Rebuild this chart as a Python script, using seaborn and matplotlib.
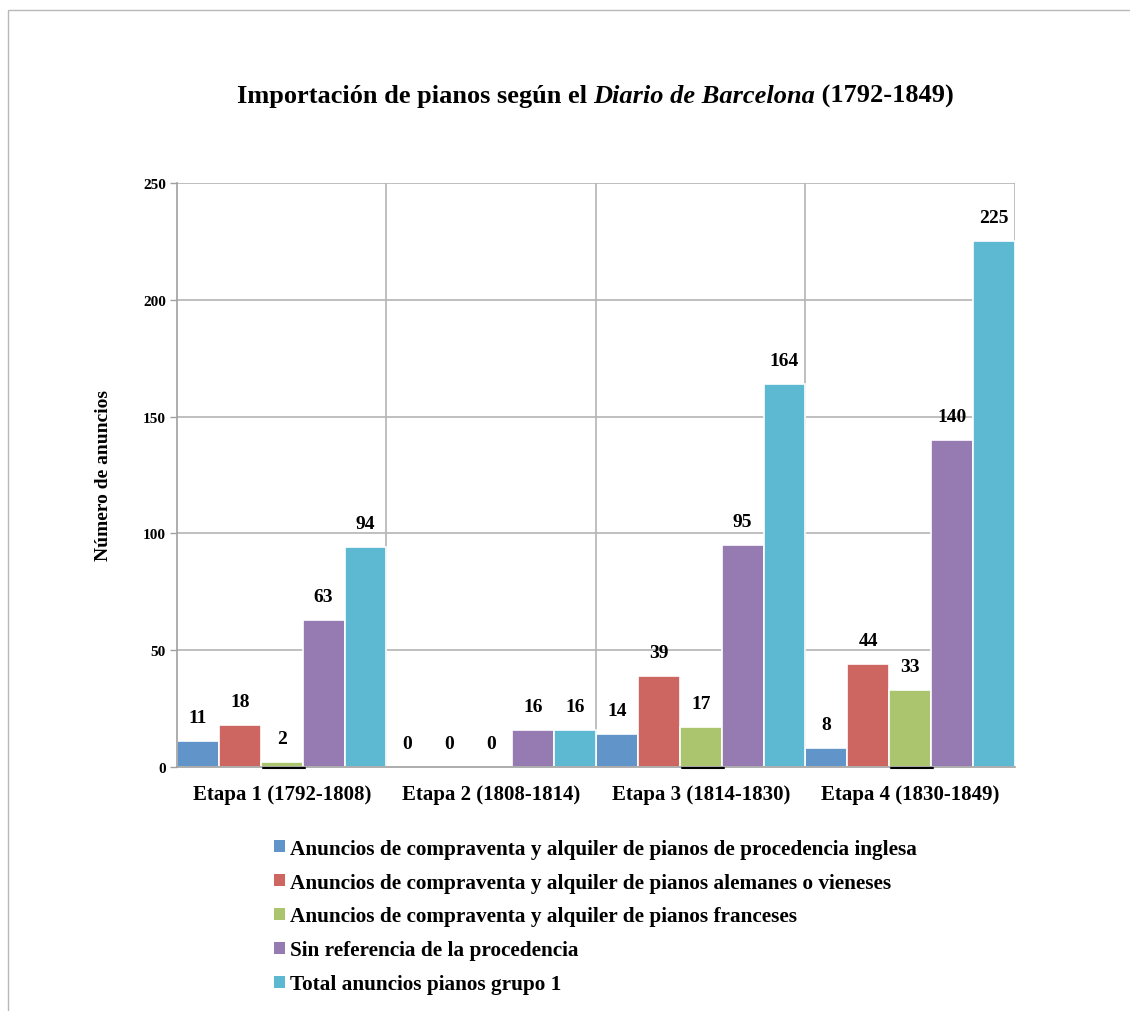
import pandas as pd
import matplotlib.pyplot as plt
import seaborn as sns
from matplotlib.patches import Patch, Rectangle

# data
etapas = ["Etapa 1 (1792-1808)", "Etapa 2 (1808-1814)",
          "Etapa 3 (1814-1830)", "Etapa 4 (1830-1849)"]
series = [
    "Anuncios de compraventa y alquiler de pianos de procedencia inglesa",
    "Anuncios de compraventa y alquiler de pianos alemanes o vieneses",
    "Anuncios de compraventa y alquiler de pianos franceses",
    "Sin referencia de la procedencia",
    "Total anuncios pianos grupo 1",
]
inglesa = [11, 0, 14, 8]
alemanes = [18, 0, 39, 44]
franceses = [2, 0, 17, 33]
sin_ref = [63, 16, 95, 140]
total = [94, 16, 164, 225]
colors = ["#6194C8", "#CD6561", "#ABC56E", "#957BB2", "#5DB9D2"]

values = [inglesa, alemanes, franceses, sin_ref, total]
rows = []
for s, vals in zip(series, values):
    for e, v in zip(etapas, vals):
        rows.append({"etapa": e, "serie": s, "valor": v})
df = pd.DataFrame(rows)

sns.set_style("white")
plt.rcParams["font.family"] = ["Liberation Serif", "DejaVu Serif"]
plt.rcParams["font.weight"] = "bold"
for k in ["text.color", "axes.labelcolor", "xtick.labelcolor", "ytick.labelcolor"]:
    plt.rcParams[k] = "black"

fig = plt.figure(figsize=(11.3, 10.12), dpi=100)
ax = fig.add_axes([0.1566, 0.2411, 0.7416, 0.5771])

sns.barplot(data=df, x="etapa", y="valor", hue="serie", order=etapas,
            hue_order=series, palette=colors, width=1.0, saturation=1,
            edgecolor="white", linewidth=1.2, ax=ax, legend=False)

ax.set_xlim(-0.5, 3.5)
ax.set_ylim(0, 250)
ax.set_yticks([0, 50, 100, 150, 200, 250])
ax.set_yticklabels([str(t) for t in [0, 50, 100, 150, 200, 250]],
                   fontsize=11, fontweight="bold")
ax.set_xticks(range(4))
ax.set_xticklabels(etapas, fontsize=15, fontweight="bold")
ax.set_xticks([-0.5, 0.5, 1.5, 2.5, 3.5], minor=True)
ax.tick_params(axis="x", which="major", length=0, pad=12)
ax.tick_params(axis="x", which="minor", length=5, color="#a0a0a0", width=1)
ax.tick_params(axis="y", length=5, color="#a0a0a0", width=1, pad=3, left=True)

grid_c = "#b4b4b4"
for yv in [50, 100, 150, 200, 250]:
    ax.axhline(yv, color=grid_c, lw=1.2, zorder=0)
for xv in [0.5, 1.5, 2.5, 3.5]:
    ax.axvline(xv, color=grid_c, lw=1.2, zorder=0)
for side in ["top", "right"]:
    ax.spines[side].set_visible(False)
for side in ["left", "bottom"]:
    ax.spines[side].set_color("#a0a0a0")
    ax.spines[side].set_linewidth(1.2)

ax.set_xlabel("")
ax.set_ylabel("Número de anuncios", fontsize=14, fontweight="bold", labelpad=22)

# value labels
for container in ax.containers:
    for bar in container:
        h = bar.get_height()
        ax.annotate(f"{int(round(h))}", (bar.get_x() + bar.get_width() / 2, h),
                    xytext=(0, 17), textcoords="offset points",
                    ha="center", va="center", fontsize=14, fontweight="bold")

# short dark line under the green bars (as in the reference)
for bar in ax.containers[2]:
    if bar.get_height() > 0:
        x0 = bar.get_x() + 0.01
        ax.plot([x0, x0 + bar.get_width()], [-0.6, -0.6], color="black",
                lw=1.5, clip_on=False, zorder=5)

# title with italic part
renderer = fig.canvas.get_renderer()
parts = [("Importación de pianos según el ", "normal"),
         ("Diario de Barcelona", "italic"),
         (" (1792-1849)", "normal")]
texts = []
for txt, st in parts:
    texts.append(fig.text(0, 0.905, txt, fontsize=19, fontweight="bold",
                          style=st, va="center", ha="left"))
widths = [t.get_window_extent(renderer).width / fig.bbox.width for t in texts]
x = 0.527 - sum(widths) / 2
for t, w in zip(texts, widths):
    t.set_x(x)
    x += w

# legend
handles = [Patch(facecolor=c, edgecolor="none") for c in colors]
fig.legend(handles, series, loc="upper left", bbox_to_anchor=(0.2352, 0.1785),
           frameon=False, handlelength=0.5, handleheight=0.5,
           handletextpad=0.25, labelspacing=0.65, borderaxespad=0,
           prop={"weight": "bold", "size": 15.3})

# outer frame of the chart area
fig.patches.append(Rectangle((8 / 1130, -0.01), 1.1, 1 - 11 / 1012 + 0.01,
                             transform=fig.transFigure, fill=False,
                             edgecolor="#b8b8b8", lw=1))

fig.savefig("out.png", dpi=100)
